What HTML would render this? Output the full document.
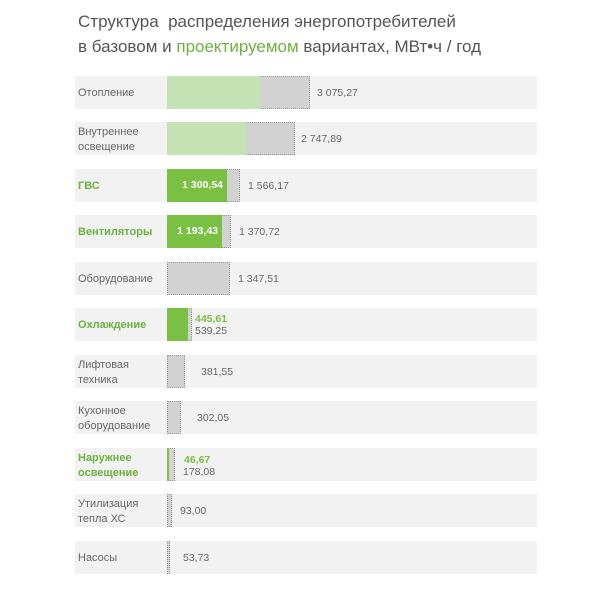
<!DOCTYPE html>
<html><head><meta charset="utf-8"><style>
body{margin:0;width:610px;height:595px;background:#fff;font-family:"Liberation Sans","DejaVu Sans",sans-serif;position:relative;overflow:hidden}
.t{position:absolute;left:78px;font-size:17px;color:#555;white-space:nowrap}
.row{position:absolute;left:75px;width:462px;height:33px;background:#f2f2f2}
.lab{position:absolute;left:3px;font-size:11px;color:#666;line-height:15px}
.lab.g{color:#6cb33f;font-weight:bold}
.base{position:absolute;left:92px;top:0;height:31px;background:#d2d2d2;border:1px dotted #999}
.prj{position:absolute;left:92px;top:0;height:33px}
.v{position:absolute;font-size:10.5px;color:#666;white-space:nowrap;line-height:12px}
.v.g{color:#7ac143;font-weight:bold}
.in{position:absolute;font-size:10.5px;color:#fff;font-weight:bold;line-height:33px;text-align:right}
</style></head><body>
<div class="t" style="top:12px">Структура&nbsp; распределения энергопотребителей</div>
<div class="t" style="top:37px">в базовом и <span style="color:#6cb33f">проектируемом</span> вариантах, МВт•ч / год</div>

<div class="row" style="top:76px"><div class="lab" style="top:10px">Отопление</div>
<div class="base" style="width:141px"></div><div class="prj" style="width:93px;background:#c4e2b3"></div>
<div class="v" style="left:242px;top:11px">3 075,27</div></div>

<div class="row" style="top:122px"><div class="lab" style="top:3px">Внутреннее<br>освещение</div>
<div class="base" style="width:126px"></div><div class="prj" style="width:79px;background:#c4e2b3"></div>
<div class="v" style="left:226px;top:11px">2 747,89</div></div>

<div class="row" style="top:169px"><div class="lab g" style="top:10px">ГВС</div>
<div class="base" style="width:71px"></div><div class="prj" style="width:60px;background:#7ac143"></div>
<div class="in" style="left:92px;width:56px;top:0">1 300,54</div>
<div class="v" style="left:173px;top:11px">1 566,17</div></div>

<div class="row" style="top:215px"><div class="lab g" style="top:10px">Вентиляторы</div>
<div class="base" style="width:62px"></div><div class="prj" style="width:55px;background:#7ac143"></div>
<div class="in" style="left:92px;width:51px;top:0">1 193,43</div>
<div class="v" style="left:164px;top:11px">1 370,72</div></div>

<div class="row" style="top:262px"><div class="lab" style="top:10px">Оборудование</div>
<div class="base" style="width:61px"></div>
<div class="v" style="left:163px;top:11px">1 347,51</div></div>

<div class="row" style="top:308px"><div class="lab g" style="top:10px">Охлаждение</div>
<div class="base" style="width:23px"></div><div class="prj" style="width:21px;background:#7ac143"></div>
<div class="v g" style="left:120px;top:5px">445,61</div>
<div class="v" style="left:120px;top:17px">539,25</div></div>

<div class="row" style="top:355px"><div class="lab" style="top:3px">Лифтовая<br>техника</div>
<div class="base" style="width:16px"></div>
<div class="v" style="left:126px;top:11px">381,55</div></div>

<div class="row" style="top:401px"><div class="lab" style="top:3px">Кухонное<br>оборудование</div>
<div class="base" style="width:12px"></div>
<div class="v" style="left:122px;top:11px">302,05</div></div>

<div class="row" style="top:448px"><div class="lab g" style="top:3px">Наружнее<br>освещение</div>
<div class="base" style="width:6px"></div><div class="prj" style="width:2px;background:#7ac143"></div>
<div class="v g" style="left:109px;top:6px">46,67</div>
<div class="v" style="left:108px;top:18px">178,08</div></div>

<div class="row" style="top:494px"><div class="lab" style="top:3px">Утилизация<br>тепла ХС</div>
<div class="base" style="width:3px"></div>
<div class="v" style="left:105px;top:11px">93,00</div></div>

<div class="row" style="top:541px"><div class="lab" style="top:10px">Насосы</div>
<div class="base" style="width:1px"></div>
<div class="v" style="left:108px;top:11px">53,73</div></div>
</body></html>
